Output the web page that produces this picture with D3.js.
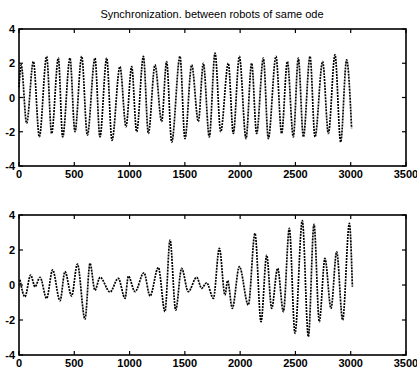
<!DOCTYPE html>
<html>
<head>
<meta charset="utf-8">
<script src="https://cdn.jsdelivr.net/npm/d3@7"></script>
<style>
  body { margin: 0; background: #fff; }
  svg { display: block; }
  text { font-family: "Liberation Sans", Arial, sans-serif; fill: #000; }
</style>
</head>
<body>
<div id="chart"></div>
<script>
// sample index of each turning point (top panel) and its value
const topX = [0, 20, 69, 130, 184, 250, 295, 356, 395, 461, 506, 567, 618, 687, 732, 793, 841,
  913, 968, 1019, 1064, 1125, 1170, 1230, 1290, 1335, 1381, 1456, 1501, 1562, 1622, 1667, 1721,
  1773, 1824, 1893, 1938, 1993, 2053, 2104, 2149, 2210, 2255, 2324, 2375, 2427, 2481, 2526, 2572,
  2632, 2677, 2746, 2798, 2858, 2909, 2963, 3008];
const topY = [0.6, 1.9, -1.5, 2.1, -2.3, 2.4, -2.1, 2.3, -2.3, 2.3, -2.0, 2.4, -2.2, 2.3, -2.3, 2.3, -2.5,
  1.8, -1.7, 1.8, -2.0, 2.4, -2.1, 1.9, -1.4, 2.1, -2.6, 2.4, -2.4, 1.9, -1.4, 2.0, -2.3,
  2.6, -2.0, 2.0, -2.1, 2.4, -2.4, 2.0, -2.1, 2.3, -2.4, 2.4, -2.1, 2.1, -2.3, 2.3, -2.3,
  2.4, -2.3, 2.1, -2.1, 2.5, -2.6, 2.2, -1.8];

// bottom panel turning points
const botX = [9, 54, 105, 145, 190, 250, 304, 371, 416, 476, 528, 597, 642, 687, 733, 823, 898,
  959, 989, 1049, 1130, 1185, 1260, 1320, 1366, 1417, 1471, 1531, 1607, 1652, 1697, 1758, 1812,
  1863, 1887, 1929, 1993, 2074, 2134, 2189, 2240, 2285, 2339, 2391, 2445, 2496, 2562, 2617, 2668,
  2716, 2767, 2822, 2873, 2927, 2988, 3015];
const botY = [0.3, -0.67, 0.57, -0.1, 0.44, -0.76, 0.86, -0.9, 0.76, -0.63, 1.2, -1.95, 1.24, -0.3, 0.44, -0.4, 0.38,
  -0.76, 0.5, -0.38, 0.7, -0.63, 1.0, -1.52, 2.57, -1.43, 0.95, -0.38, 0.44, -0.19, 0.13, -0.76, 2.1,
  -0.57, 0.25, -1.33, 1.05, -1.14, 2.95, -2.1, 1.7, -1.33, 0.95, -1.52, 3.24, -2.76, 3.68, -2.95, 3.47,
  -2.1, 1.52, -1.33, 1.9, -2.0, 3.52, -0.1];

const xTicks = [0, 500, 1000, 1500, 2000, 2500, 3000, 3500];
const yTicks = [4, 2, 0, -2, -4];
const title = 'Synchronization. between robots of same ode';

const width = 417;
const height = 372;

const svg = d3.select('#chart')
    .append('svg')
    .attr('width', width)
    .attr('height', height);

svg.append('text')
    .attr('x', 212)
    .attr('y', 18)
    .attr('text-anchor', 'middle')
    .style('font-size', '11px')
    .style('font-weight', 500)
    .text(title);

function panel(top, bottom, xs, ys) {
    const xScale = d3.scaleLinear().domain([0, 3500]).range([19, 406]);
    const yScale = d3.scaleLinear().domain([-4, 4]).range([bottom, top]);
    const g = svg.append('g');

    const pts = xs.map((x, i) => [x, ys[i]]);
    const line = d3.line()
        .x(d => xScale(d[0]))
        .y(d => yScale(d[1]))
        .curve(d3.curveMonotoneX);

    g.append('path')
        .datum(pts)
        .attr('fill', 'none')
        .attr('stroke', '#000')
        .attr('stroke-width', 1.7)
        .attr('stroke-dasharray', '2,1')
        .attr('d', line);

    // box
    g.append('rect')
        .attr('x', 19).attr('y', top)
        .attr('width', 387).attr('height', bottom - top)
        .attr('fill', 'none')
        .attr('stroke', '#000')
        .attr('stroke-width', 1.6);

    // inward ticks, on all four sides
    const tl = 4;
    xTicks.forEach(t => {
        const x = xScale(t);
        g.append('line').attr('x1', x).attr('x2', x).attr('y1', bottom).attr('y2', bottom - tl)
            .attr('stroke', '#000').attr('stroke-width', 1.2);
        g.append('line').attr('x1', x).attr('x2', x).attr('y1', top).attr('y2', top + tl)
            .attr('stroke', '#000').attr('stroke-width', 1.2);
        g.append('text')
            .attr('x', x).attr('y', bottom + 12)
            .attr('text-anchor', 'middle')
            .style('font-size', '11px').style('font-weight', 'bold')
            .text(t);
    });
    yTicks.forEach(t => {
        const y = yScale(t);
        g.append('line').attr('x1', 19).attr('x2', 19 + tl).attr('y1', y).attr('y2', y)
            .attr('stroke', '#000').attr('stroke-width', 1.2);
        g.append('line').attr('x1', 406).attr('x2', 406 - tl).attr('y1', y).attr('y2', y)
            .attr('stroke', '#000').attr('stroke-width', 1.2);
        g.append('text')
            .attr('x', 15).attr('y', y + 4)
            .attr('text-anchor', 'end')
            .style('font-size', '11px').style('font-weight', 'bold')
            .text(t);
    });
}

panel(29, 166, topX, topY);
panel(215, 355, botX, botY);
</script>
</body>
</html>
